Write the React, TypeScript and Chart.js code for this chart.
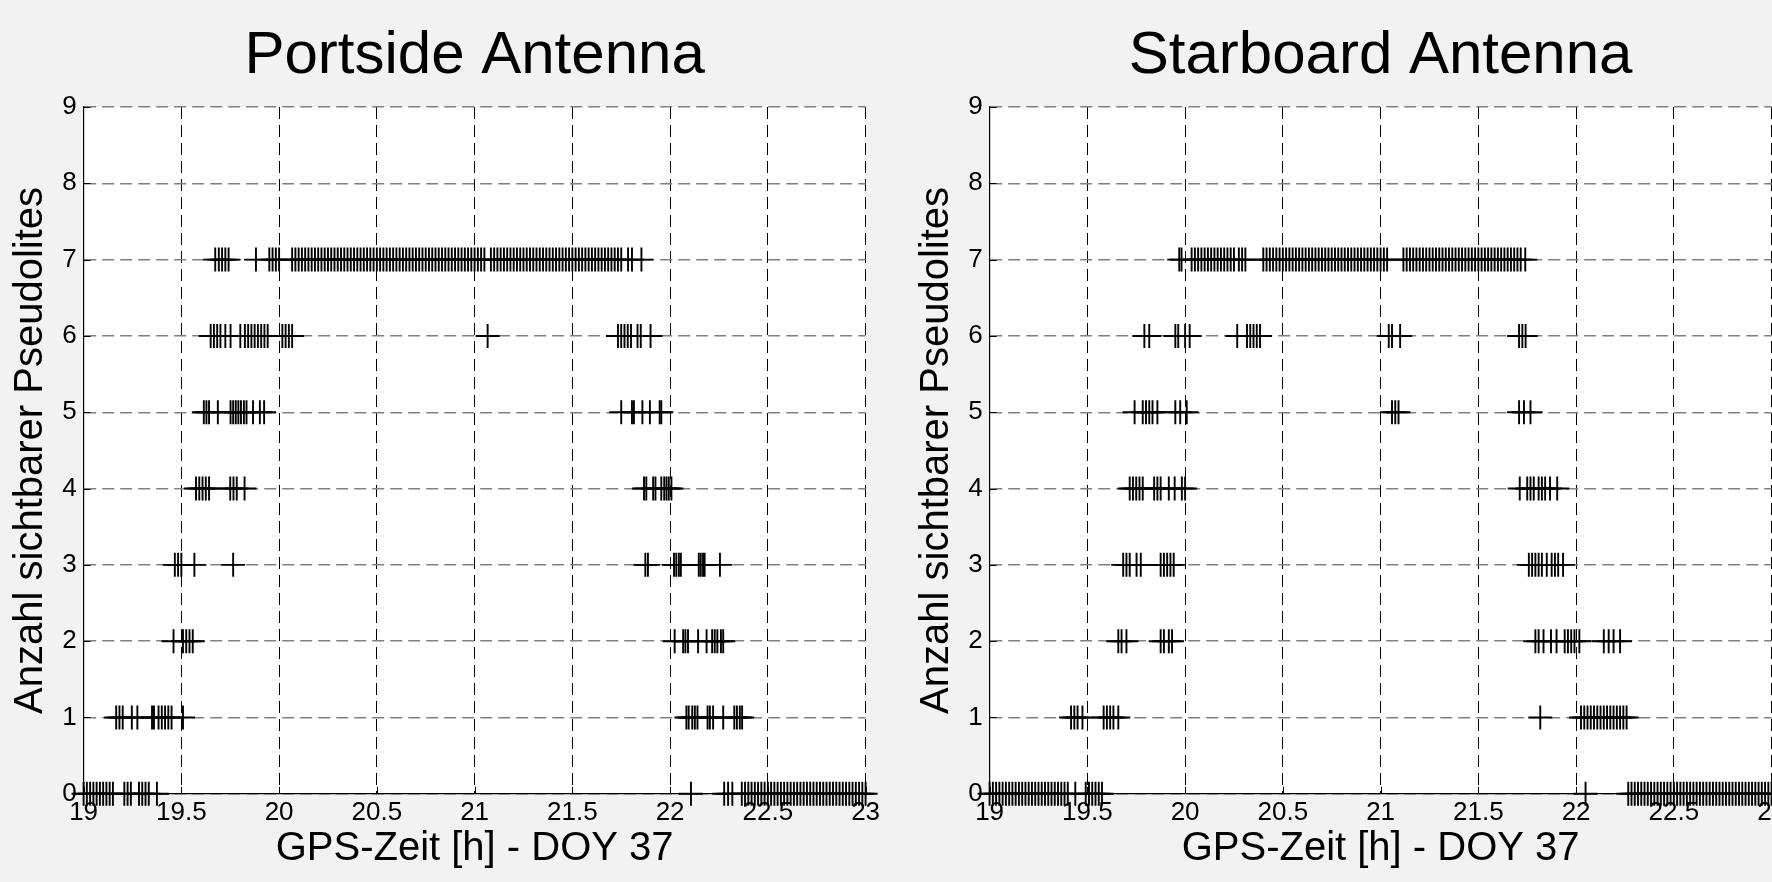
import React, { useEffect, useRef } from "react";
import { Chart, registerables } from "chart.js";

Chart.register(...registerables);

// Time values are minutes after 19:00 GPS time (DOY 37); plotted in hours.
const START_HOUR = 19;
const X_MIN = 19;
const X_MAX = 23;
const X_STEP = 0.5;
const Y_MIN = 0;
const Y_MAX = 9;
const LEVELS = [0, 1, 2, 3, 4, 5, 6, 7];

const X_TITLE = "GPS-Zeit [h] - DOY 37";
const Y_TITLE = "Anzahl sichtbarer Pseudolites";
const TITLE_LEFT = "Portside Antenna";
const TITLE_RIGHT = "Starboard Antenna";
const PANEL_TAG = "(b)";

// ---- Portside antenna: epochs (minutes after 19:00) per number of visible pseudolites
const port0 = [0, 1, 2, 3, 4, 5, 6, 7, 8, 9, 12.5, 13.5, 14.5, 17, 18, 19, 20, 22.5, 186.4, 196.6, 197.8, 199.1,
  202, 203, 204, 205, 206, 207, 208, 209, 210, 211, 212, 213, 214, 215, 216, 217, 218, 219, 220, 221, 222, 223, 224,
  225, 226, 227, 228, 229, 230, 231, 232, 233, 234, 235, 236, 237, 238, 239, 240];
const port1 = [10, 11, 12, 14.8, 16.5, 21, 21.6, 23, 24, 25, 26, 27, 30.5, 185, 185.7, 186.8, 187.6, 188.4, 191.5,
  192.2, 193.2, 196.3, 199.7, 200.5, 201.4, 202.1];
const port2 = [27.6, 30.5, 31.5, 32.5, 33.5, 181.4, 184, 184.7, 185.5, 188.6, 191.2, 192.9, 193.7, 194.5, 195.6, 196.3];
const port3 = [28, 29, 30, 34, 45.9, 172.4, 173.2, 181.2, 181.9, 182.7, 183.3, 188.8, 189.4, 190.1, 190.6, 195.3];
const port4 = [34.5, 35.5, 36.5, 37.5, 38.5, 45, 46, 47, 49.4, 172, 172.7, 174.8, 175.5, 177.3, 178.2, 178.9, 179.6, 180.4];
const port5 = [36.9, 37.7, 38.5, 41.2, 45.1, 45.9, 46.7, 47.5, 48.3, 49.2, 50, 52, 54.1, 55.4, 165, 168.3, 168.9,
  171.5, 173.8, 176.8, 177.3];
const port6 = [39, 40, 41, 42, 43.5, 45.1, 48.1, 49.5, 50.5, 51.5, 52.5, 53.5, 54.5, 55.5, 56.5, 61, 62, 63, 64, 124,
  164, 165, 166, 167, 168, 170, 171, 174];
const port7 = [40.4, 41.5, 42.5, 43.5, 44.5, 52.9, 57, 58, 59, 60,
  64, 65, 66, 67, 68, 69, 70, 71, 72, 73, 74, 75, 76, 77, 78, 79, 80, 81, 82, 83, 84, 85, 86, 87, 88, 89, 90, 91, 92,
  93, 94, 95, 96, 97, 98, 99, 100, 101, 102, 103, 104, 105, 106, 107, 108, 109, 110, 111, 112, 113, 114, 115, 116,
  117, 118, 119, 120, 121, 122, 123, 125, 126, 127, 128, 129, 130, 131, 132, 133, 134, 135, 136, 137, 138, 139, 140,
  141, 142, 143, 144, 145, 146, 147, 148, 149, 150, 151, 152, 153, 154, 155, 156, 157, 158, 159, 160, 161, 162, 163,
  164, 165, 167.1, 168.3, 171.2];

// ---- Starboard antenna
const star0 = [0, 1, 2, 3, 4, 5, 6, 7, 8, 9, 10, 11, 12, 13, 14, 15, 16, 17, 18, 19, 20, 21, 22, 23, 24, 26.3,
  29.5, 30.5, 31.5, 32.5, 33.5, 34.5, 182.9,
  196, 197, 198, 199, 200, 201, 202, 203, 204, 205, 206, 207, 208, 209, 210, 211, 212, 213, 214, 215, 216, 217, 218,
  219, 220, 221, 222, 223, 224, 225, 226, 227, 228, 229, 230, 231, 232, 233, 234, 235, 236, 237, 238, 239, 240];
const star1 = [25, 26, 27, 28.5, 35, 36, 37, 38, 39.5, 169, 181.5, 182.5, 183.5, 184.5, 185.5, 186.5, 187.5, 188.5,
  189.5, 190.5, 191.5, 192.5, 193.5, 194.5, 195.5];
const star2 = [39.5, 40.5, 42, 52.5, 53.5, 55, 56, 167.5, 168.5, 170, 172.3, 174, 176.5, 177.5, 178.5, 179.5, 181,
  188.5, 190, 191.5, 193.5];
const star3 = [41, 42, 43, 45.1, 46.4, 52.5, 53.5, 54.5, 55.5, 56.5, 165.5, 166.5, 167.5, 168.5, 169.5, 171, 172.5,
  173.5, 174.5, 176];
const star4 = [43, 44, 45, 46, 47, 50.5, 51.5, 52.5, 55, 56.8, 59, 60, 162.7, 165, 166, 167, 168.5, 169.5, 170.5,
  172, 174.2];
const star5 = [44.5, 47, 48, 49, 50, 51.5, 57, 58.5, 60.5, 123.5, 124.5, 125.5, 162.5, 164, 166];
const star6 = [47.5, 49, 57, 57.9, 60, 61.4, 76, 79, 80, 81, 82, 83, 122.5, 123.5, 126, 162.5, 163.5, 164.5];
const star7 = [58.2, 58.9,
  62, 63, 64, 65, 66, 67, 68, 69, 70, 71, 72, 73, 74, 75, 76.5, 77.5, 78.5,
  84, 85, 86, 87, 88, 89, 90, 91, 92, 93, 94, 95, 96, 97, 98, 99, 100, 101, 102, 103, 104, 105, 106, 107, 108, 109,
  110, 111, 112, 113, 114, 115, 116, 117, 118, 119, 120, 121, 122,
  127, 128, 129, 130, 131, 132, 133, 134, 135, 136, 137, 138, 139, 140, 141, 142, 143, 144, 145, 146, 147, 148, 149,
  150, 151, 152, 153, 154, 155, 156, 157, 158, 159, 160, 161, 162, 163, 164.4];

const PORT = [port0, port1, port2, port3, port4, port5, port6, port7];
const STAR = [star0, star1, star2, star3, star4, star5, star6, star7];

const FONT = '"Liberation Sans", Arial, Helvetica, sans-serif';
const CANVAS_W = 900;
const CANVAS_H = 882;

const plotBg = {
  id: "plotBg",
  beforeDraw(chart: any) {
    const { ctx, chartArea } = chart;
    ctx.save();
    ctx.fillStyle = "#ffffff";
    ctx.fillRect(chartArea.left, chartArea.top, chartArea.right - chartArea.left, chartArea.bottom - chartArea.top);
    ctx.restore();
  },
};

const innerTicks = {
  id: "innerTicks",
  afterDraw(chart: any) {
    const { ctx, chartArea } = chart;
    const xs = chart.scales.x;
    const ys = chart.scales.y;
    ctx.save();
    ctx.strokeStyle = "#000";
    ctx.lineWidth = 1;
    ctx.beginPath();
    ys.ticks.forEach((t: any) => {
      const y = Math.round(ys.getPixelForValue(t.value)) + 0.5;
      ctx.moveTo(chartArea.left, y);
      ctx.lineTo(chartArea.left + 7, y);
    });
    xs.ticks.forEach((t: any) => {
      const x = Math.round(xs.getPixelForValue(t.value)) + 0.5;
      ctx.moveTo(x, chartArea.bottom);
      ctx.lineTo(x, chartArea.bottom - 7);
    });
    ctx.stroke();
    ctx.restore();
  },
};

function makeConfig(title: string, levels: number[][]): any {
  const datasets = LEVELS.map((lvl, i) => ({
    label: String(lvl),
    data: levels[i].map((m) => ({ x: START_HOUR + m / 60, y: lvl })),
    pointStyle: "cross",
    pointRadius: 12,
    pointHoverRadius: 12,
    borderColor: "#000000",
    backgroundColor: "#000000",
    borderWidth: 1.9,
    showLine: false,
    clip: false,
  }));
  return {
    type: "scatter",
    data: { datasets },
    plugins: [plotBg, innerTicks],
    options: {
      animation: false,
      responsive: false,
      maintainAspectRatio: false,
      devicePixelRatio: 1,
      events: [],
      layout: { padding: { left: 0, right: 34.4, top: 0, bottom: 0 } },
      plugins: {
        legend: { display: false },
        tooltip: { enabled: false },
        title: {
          display: true,
          text: title,
          fullSize: false,
          color: "#000",
          font: { family: FONT, size: 60, weight: "normal", lineHeight: 1.2 },
          padding: { top: 20, bottom: 15 },
        },
      },
      scales: {
        x: {
          type: "linear",
          min: X_MIN,
          max: X_MAX,
          afterFit: (s: any) => {
            s.height = 88.2;
          },
          ticks: {
            stepSize: X_STEP,
            autoSkip: false,
            maxRotation: 0,
            color: "#000",
            padding: 3,
            font: { family: FONT, size: 26 },
            callback: (v: any) => String(Number(v)),
          },
          grid: { color: "#000000", lineWidth: 1, drawTicks: false },
          border: { display: true, color: "#000", width: 1.2, dash: [12, 6] },
          title: {
            display: true,
            text: X_TITLE,
            color: "#000",
            font: { family: FONT, size: 40, lineHeight: 1.2 },
            padding: { top: 0, bottom: 9 },
          },
        },
        y: {
          type: "linear",
          min: Y_MIN,
          max: Y_MAX,
          afterFit: (s: any) => {
            s.width = 83.6;
          },
          ticks: {
            stepSize: 1,
            color: "#000",
            padding: 7,
            font: { family: FONT, size: 26 },
            callback: (v: any) => String(Number(v)),
          },
          grid: { color: "#808080", lineWidth: 1.4, drawTicks: false },
          border: { display: true, color: "#000", width: 1.2, dash: [12, 6] },
          title: {
            display: true,
            text: Y_TITLE,
            color: "#000",
            font: { family: FONT, size: 40, lineHeight: 1.2 },
            padding: { top: 7, bottom: 0 },
          },
        },
      },
    },
  };
}

function Panel({ title, levels, left }: { title: string; levels: number[][]; left: number }) {
  const ref = useRef<HTMLCanvasElement | null>(null);
  useEffect(() => {
    if (!ref.current) return;
    const chart = new Chart(ref.current, makeConfig(title, levels));
    return () => chart.destroy();
  }, [title, levels]);
  return (
    <canvas
      ref={ref}
      width={CANVAS_W}
      height={CANVAS_H}
      style={{ position: "absolute", left, top: 0, width: CANVAS_W, height: CANVAS_H }}
    />
  );
}

export default function App() {
  return (
    <div
      style={{
        position: "fixed",
        left: 0,
        top: 0,
        width: 1772,
        height: 882,
        overflow: "hidden",
        background: "#f2f2f2",
      }}
    >
      <div
        style={{
          position: "absolute",
          left: 1180,
          top: -67,
          width: 200,
          textAlign: "center",
          fontFamily: FONT,
          fontSize: 60,
          lineHeight: "60px",
          color: "#000",
        }}
      >
        {PANEL_TAG}
      </div>
      <Panel title={TITLE_LEFT} levels={PORT} left={0} />
      <Panel title={TITLE_RIGHT} levels={STAR} left={906} />
    </div>
  );
}
